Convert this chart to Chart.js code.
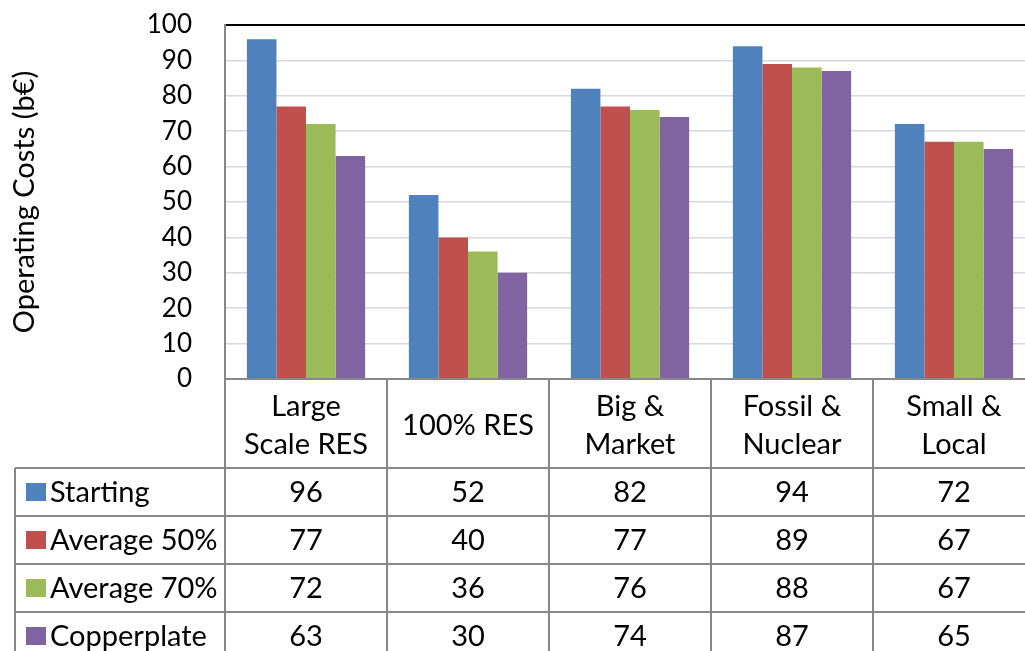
<!DOCTYPE html>
<html>
<head>
<meta charset="utf-8">
<script src="https://cdn.jsdelivr.net/npm/chart.js@4.4.1/dist/chart.umd.min.js"></script>
<style>
  html, body { margin: 0; padding: 0; background: #fff; overflow: hidden; }
  #wrap { position: relative; width: 1036px; height: 651px; }
</style>
</head>
<body>
<div id="wrap"><canvas id="c" width="1036" height="651"></canvas></div>
<script>
// Scenarios (categories) and their labels as shown in the data table header
const categories = [['Large', 'Scale RES'], ['100% RES'], ['Big &', 'Market'], ['Fossil &', 'Nuclear'], ['Small &', 'Local']];

// Operating costs per scenario, in billion euro
const seriesNames = ['Starting', 'Average 50%', 'Average 70%', 'Copperplate'];
const starting    = [96, 52, 82, 94, 72];
const average50   = [77, 40, 77, 89, 67];
const average70   = [72, 36, 76, 88, 67];
const copperplate = [63, 30, 74, 87, 65];
const seriesColors = ['#4f81bd', '#c0504d', '#9bbb59', '#8064a2'];

const yTicks = [0, 10, 20, 30, 40, 50, 60, 70, 80, 90, 100];

const FONT = 'Lato, "Open Sans", sans-serif';
const LINE = '#878787';
const TABLE_FONT = '29px ' + FONT;

// Excel-style data table drawn beneath the plot area
const dataTable = {
  id: 'dataTable',
  afterDraw(chart) {
    const { ctx, chartArea, scales } = chart;
    const x = scales.x;
    const top = chartArea.bottom;
    const headerH = 89;
    const rowH = 48;
    const tableLeft = 15;
    const right = chartArea.right;
    const n = chart.data.labels.length;
    const step = (chartArea.right - chartArea.left) / n;

    ctx.save();
    ctx.strokeStyle = LINE;
    ctx.lineWidth = 2;

    // axis line / header top
    ctx.beginPath();
    ctx.moveTo(chartArea.left, top);
    ctx.lineTo(right, top);
    ctx.stroke();

    // column separators
    for (let i = 0; i <= n; i++) {
      const cx = Math.round(chartArea.left + i * step);
      ctx.beginPath();
      ctx.moveTo(cx, top);
      ctx.lineTo(cx, chart.height + 10);
      ctx.stroke();
    }
    // row lines
    const rows = chart.data.datasets.length;
    for (let r = 0; r <= rows; r++) {
      const ry = top + headerH + r * rowH;
      ctx.beginPath();
      ctx.moveTo(tableLeft, ry);
      ctx.lineTo(right, ry);
      ctx.stroke();
    }
    // left border
    ctx.beginPath();
    ctx.moveTo(tableLeft, top + headerH);
    ctx.lineTo(tableLeft, chart.height + 10);
    ctx.stroke();

    ctx.fillStyle = '#000';
    ctx.font = TABLE_FONT;
    ctx.textAlign = 'center';
    ctx.textBaseline = 'middle';

    // header labels
    chart.data.labels.forEach((lab, i) => {
      const cx = x.getPixelForValue(i);
      const lines = Array.isArray(lab) ? lab : [lab];
      const lh = 38;
      const midY = top + headerH / 2 + 2;
      lines.forEach((t, k) => {
        ctx.fillText(t, cx, midY + (k - (lines.length - 1) / 2) * lh);
      });
    });

    // data rows
    chart.data.datasets.forEach((ds, r) => {
      const cy = top + headerH + r * rowH + rowH / 2;
      ctx.fillStyle = ds.backgroundColor;
      ctx.fillRect(26, cy - 9, 20, 18);
      ctx.fillStyle = '#000';
      ctx.textAlign = 'left';
      ctx.fillText(ds.label, 50, cy + 1);
      ctx.textAlign = 'center';
      ds.data.forEach((v, i) => {
        ctx.fillText(String(v), x.getPixelForValue(i), cy + 1);
      });
    });
    ctx.restore();
  }
};

new Chart(document.getElementById('c'), {
  type: 'bar',
  data: {
    labels: categories,
    datasets: [starting, average50, average70, copperplate].map((d, i) => ({
      label: seriesNames[i],
      data: d,
      backgroundColor: seriesColors[i],
      borderWidth: 0,
      categoryPercentage: 0.73,
      barPercentage: 1.0
    }))
  },
  options: {
    responsive: false,
    animation: false,
    layout: { padding: { top: 25, bottom: 272, left: 0, right: 1 } },
    plugins: { legend: { display: false }, tooltip: { enabled: false } },
    scales: {
      x: { display: false },
      y: {
        min: 0,
        max: 100,
        afterBuildTicks: (s) => { s.ticks = yTicks.map(v => ({ value: v })); },
        afterFit: (s) => { s.width = 225; s.paddingTop = 0; s.paddingBottom = 0; },
        ticks: { color: '#000', font: { family: FONT, size: 26 }, padding: 33 },
        grid: {
          drawTicks: false,
          color: (c) => c.tick && c.tick.value === 100 ? '#000' : '#d9d9d9',
          lineWidth: (c) => c.tick && c.tick.value === 100 ? 2 : 1.5
        },
        border: { color: LINE, width: 2 },
        title: {
          display: true,
          text: 'Operating Costs (b€)',
          color: '#000',
          font: { family: FONT, size: 29 },
          padding: { top: 7, bottom: 0 }
        }
      }
    }
  },
  plugins: [dataTable]
});
</script>
</body>
</html>
